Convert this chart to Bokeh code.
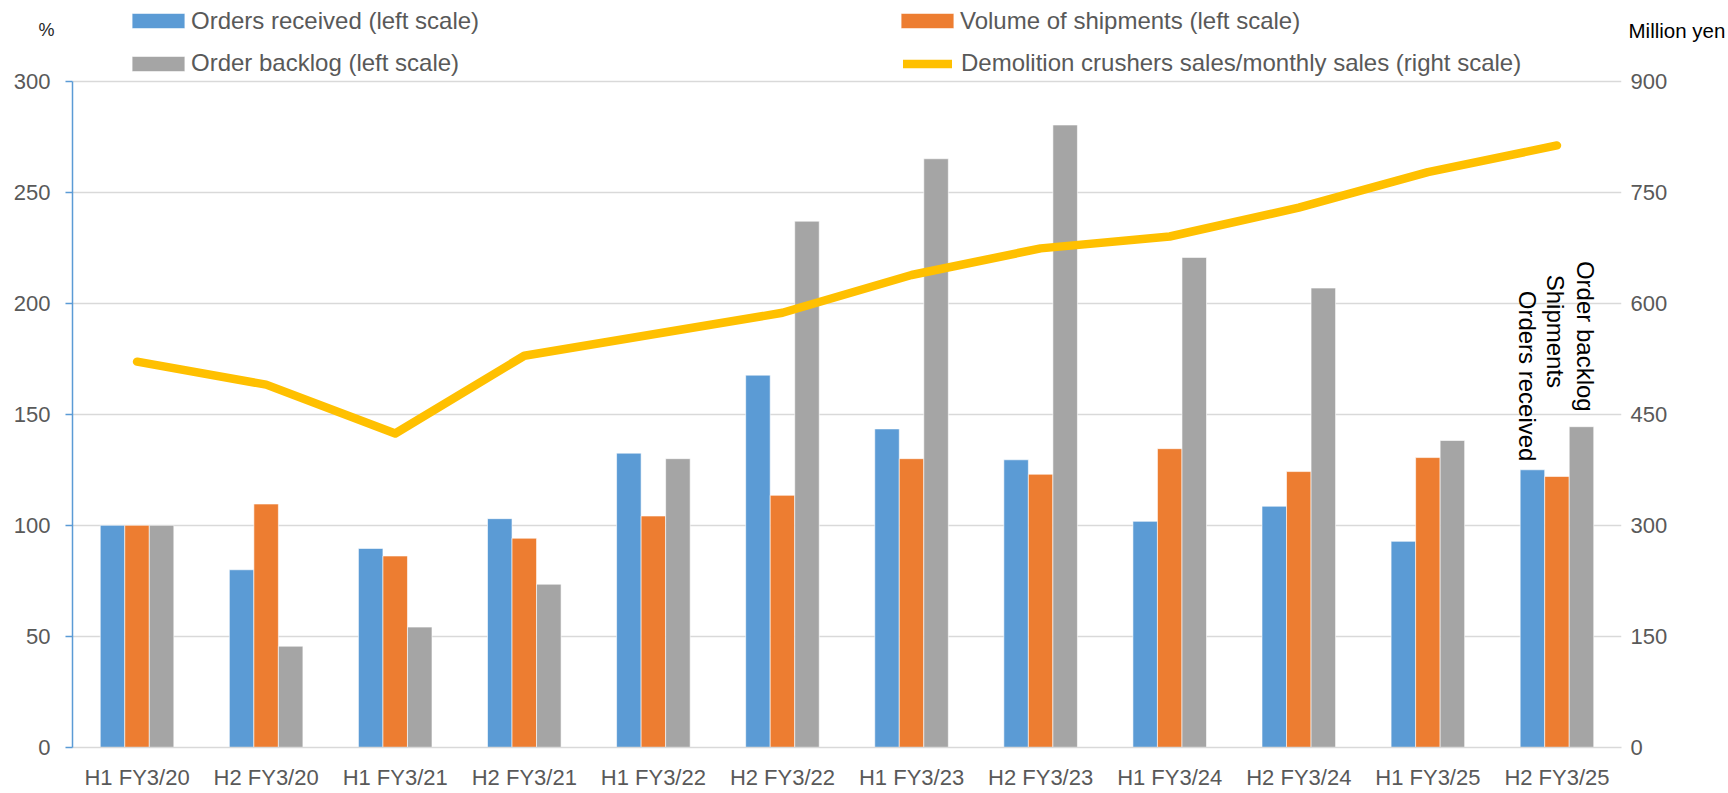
import math
from bokeh.plotting import figure
from bokeh.models import (ColumnDataSource, FactorRange, Range1d, LinearAxis, FixedTicker,
                          Legend, LegendItem)
from bokeh.transform import dodge
from bokeh.core.properties import value
from bokeh.embed import file_html
from bokeh.resources import INLINE

# ---- data ----
periods = ["H1 FY3/20", "H2 FY3/20", "H1 FY3/21", "H2 FY3/21", "H1 FY3/22", "H2 FY3/22",
           "H1 FY3/23", "H2 FY3/23", "H1 FY3/24", "H2 FY3/24", "H1 FY3/25", "H2 FY3/25"]
orders_received = [100, 80, 89.6, 103, 132.5, 167.6, 143.4, 129.5, 101.8, 108.6, 92.8, 125]
shipments = [100, 109.6, 86.2, 94.2, 104.2, 113.5, 130, 123, 134.5, 124.2, 130.5, 122]
order_backlog = [100, 45.6, 54.2, 73.5, 130, 236.9, 265, 280.2, 220.6, 206.8, 138.2, 144.4]
crusher_sales = [521, 490, 424, 529, 558, 587, 638, 674, 690, 729, 777, 813]

left_ticks = [0, 50, 100, 150, 200, 250, 300]
right_ticks = [0, 150, 300, 450, 600, 750, 900]

side_labels = ["Orders received", "Shipments", "Order backlog"]
side_label_tops = [205.6, 212.8, 219.0]

BLUE, ORANGE, GRAY, YELLOW = "#5B9BD5", "#ED7D31", "#A5A5A5", "#FFC000"
TXT = "#595959"
FONT = "Liberation Sans"

# ---- layout constants (pixels) ----
W, H = 1728, 793
FRAME_L, FRAME_R, FRAME_T, FRAME_B = 72, 1622, 80.5, 747
px_per_unit = (FRAME_B - FRAME_T) / 300.0
left_top = FRAME_B / px_per_unit          # frame reaches the top of the canvas
pct_pos = (FRAME_B - 29.5) / px_per_unit   # where the "%" unit text sits
yen_pos = 3 * (FRAME_B - 30) / px_per_unit  # where the "Million yen" unit text sits

src = ColumnDataSource(dict(period=periods, orders=orders_received, ship=shipments,
                            backlog=order_backlog, sales=crusher_sales))

p = figure(x_range=FactorRange(*periods), y_range=Range1d(0, left_top), width=W, height=H,
           output_backend="svg", toolbar_location=None, title=None,
           min_border_left=FRAME_L, min_border_right=W - FRAME_R, min_border_top=0,
           min_border_bottom=H - FRAME_B)
p.extra_y_ranges = {"right": Range1d(0, 3 * left_top)}
p.outline_line_color = None
p.xgrid.grid_line_color = None
p.ygrid.grid_line_color = "#D9D9D9"
p.ygrid.grid_line_width = 1.3
p.ygrid.ticker = FixedTicker(ticks=left_ticks)

bw = 0.19
r1 = p.vbar(x=dodge("period", -bw, range=p.x_range), top="orders", width=bw, source=src,
            fill_color=BLUE, line_color="white", line_width=0.6)
r2 = p.vbar(x=dodge("period", 0, range=p.x_range), top="ship", width=bw, source=src,
            fill_color=ORANGE, line_color="white", line_width=0.6)
r3 = p.vbar(x=dodge("period", bw, range=p.x_range), top="backlog", width=bw, source=src,
            fill_color=GRAY, line_color="white", line_width=0.6)
r4 = p.line(x="period", y="sales", source=src, y_range_name="right", line_color=YELLOW,
            line_width=8.5, line_cap="round", line_join="round")

# vertical labels next to last group
lab_src = ColumnDataSource(dict(x=["H2 FY3/25"] * 3, y=side_label_tops, text=side_labels,
                                xo=[-29, -1, 29]))
p.text(x="x", y="y", text="text", x_offset="xo", source=lab_src, angle=-math.pi / 2,
       text_align="left", text_baseline="middle", text_font=value(FONT),
       text_font_size="24px", text_color="black")

# ---- axes ----
yl = p.yaxis[0]
yl.ticker = FixedTicker(ticks=left_ticks)
yl.bounds = (0, 300)
yl.axis_line_color = BLUE
yl.axis_line_width = 1.5
yl.major_tick_line_color = BLUE
yl.major_tick_line_width = 1.5
yl.major_tick_out = 7
yl.major_tick_in = 0
yl.minor_tick_line_color = None
yl.major_label_standoff = 15
yl.major_label_text_font = FONT
yl.major_label_text_font_size = "22px"
yl.major_label_text_color = TXT

yr = LinearAxis(y_range_name="right", ticker=FixedTicker(ticks=right_ticks))
yr.axis_line_color = None
yr.major_tick_line_color = None
yr.major_tick_out = 0
yr.major_tick_in = 0
yr.minor_tick_line_color = None
yr.major_label_standoff = 9
yr.major_label_text_font = FONT
yr.major_label_text_font_size = "22px"
yr.major_label_text_color = TXT
p.add_layout(yr, "right")

# unit captions ("%" and "Million yen") carried by label-only axes
pct_ax = LinearAxis(ticker=FixedTicker(ticks=[pct_pos]), major_label_overrides={pct_pos: "%"})
pct_ax.axis_line_color = None
pct_ax.major_tick_line_color = None
pct_ax.minor_tick_line_color = None
pct_ax.major_label_standoff = -50
pct_ax.major_label_text_font = FONT
pct_ax.major_label_text_font_size = "18px"
pct_ax.major_label_text_color = "#262626"
p.add_layout(pct_ax, "left")

yen_ax = LinearAxis(y_range_name="right", ticker=FixedTicker(ticks=[yen_pos]),
                    major_label_overrides={yen_pos: "Million yen"})
yen_ax.axis_line_color = None
yen_ax.major_tick_line_color = None
yen_ax.major_tick_out = 0
yen_ax.major_tick_in = 0
yen_ax.minor_tick_line_color = None
yen_ax.major_label_standoff = -42
yen_ax.major_label_text_font = FONT
yen_ax.major_label_text_font_size = "20.5px"
yen_ax.major_label_text_color = "black"
p.add_layout(yen_ax, "right")

xa = p.xaxis[0]
xa.axis_line_color = "#D9D9D9"
xa.axis_line_width = 1.5
xa.major_tick_line_color = None
xa.major_tick_out = 0
xa.major_tick_in = 0
xa.minor_tick_line_color = None
xa.major_label_standoff = 17
xa.major_label_text_font = FONT
xa.major_label_text_font_size = "22px"
xa.major_label_text_color = TXT


def add_legend(item, x, y, gw, gh, standoff=0):
    lg = Legend(items=[item], location=(x, y), orientation="vertical",
                label_text_font=FONT, label_text_font_size="24px", label_text_color=TXT,
                glyph_width=gw, glyph_height=gh, label_height=24, label_standoff=standoff,
                padding=0, margin=0, spacing=0, border_line_color=None,
                background_fill_alpha=0)
    p.add_layout(lg)


row1 = FRAME_B - 22.5 - 12
row2 = FRAME_B - 65 - 12
add_legend(LegendItem(label="Orders received (left scale)", renderers=[r1]), 53, row1, 66, 19)
add_legend(LegendItem(label="Order backlog (left scale)", renderers=[r3]), 53, row2, 66, 19)
add_legend(LegendItem(label="Volume of shipments (left scale)", renderers=[r2]), 822, row1, 66, 19)
add_legend(LegendItem(label="Demolition crushers sales/monthly sales (right scale)",
                      renderers=[r4]), 831, row2, 49, 19, standoff=9)

open("out.html", "w").write(file_html(p, INLINE))
